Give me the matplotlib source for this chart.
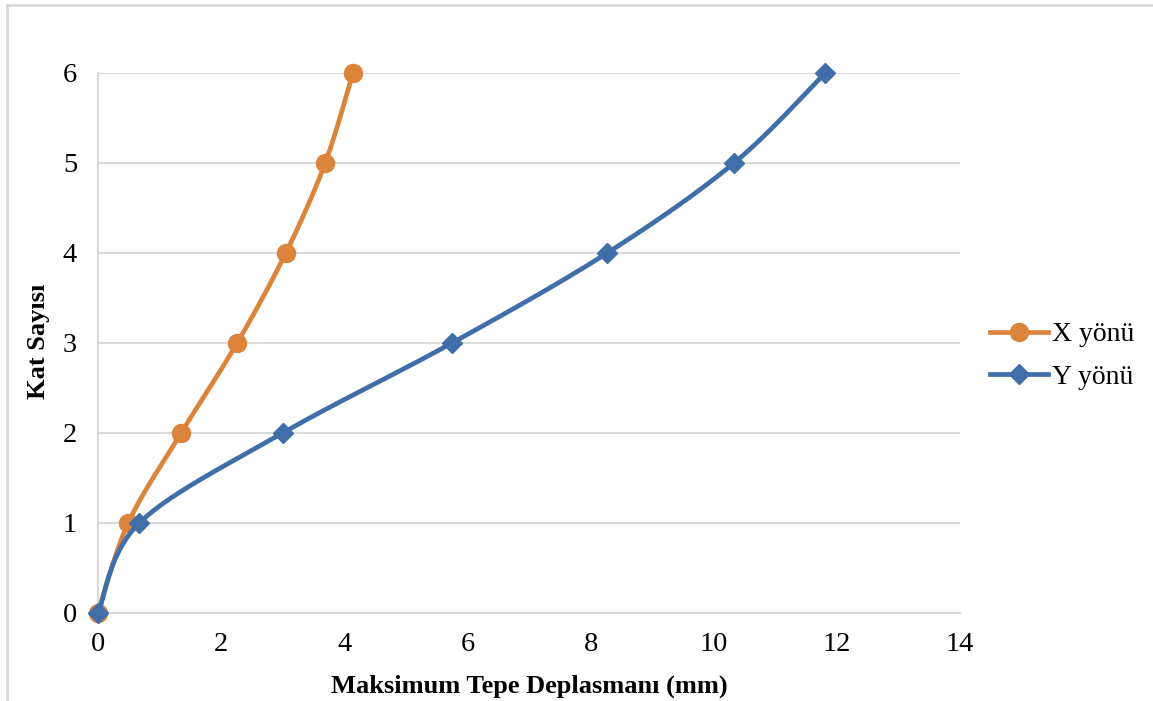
import numpy as np
import matplotlib
matplotlib.use("Agg")
import matplotlib.pyplot as plt
from matplotlib.lines import Line2D

# Storey displacement data
floors = [0, 1, 2, 3, 4, 5, 6]
x_dir = [0.0, 0.49, 1.35, 2.26, 3.05, 3.69, 4.14]
y_dir = [0.0, 0.67, 3.00, 5.75, 8.27, 10.33, 11.81]
series_names = ["X yönü", "Y yönü"]
x_ticks = [0, 2, 4, 6, 8, 10, 12, 14]
y_ticks = [0, 1, 2, 3, 4, 5, 6]

COL_X = "#dd843c"
COL_Y = "#3f6ea9"
GRID = "#d9d9d9"

plt.rcParams["font.family"] = ["Liberation Serif", "DejaVu Serif"]


def smooth(xs, ys, n=40, tension=0.5):
    """Catmull-Rom style smoothing through every data point."""
    p = np.column_stack([xs, ys]).astype(float)
    p = np.vstack([p[0], p, p[-1]])
    out = []
    for i in range(1, len(p) - 2):
        p0, p1, p2, p3 = p[i - 1], p[i], p[i + 1], p[i + 2]
        m1 = tension * (p2 - p0)
        m2 = tension * (p3 - p1)
        t = np.linspace(0, 1, n)[:, None]
        h00 = 2 * t**3 - 3 * t**2 + 1
        h10 = t**3 - 2 * t**2 + t
        h01 = -2 * t**3 + 3 * t**2
        h11 = t**3 - t**2
        seg = h00 * p1 + h10 * m1 + h01 * p2 + h11 * m2
        out.append(seg if i == 1 else seg[1:])
    c = np.vstack(out)
    return c[:, 0], c[:, 1]


fig = plt.figure(figsize=(11.53, 7.01), dpi=100)
W, H = 1153, 701
ax = fig.add_axes([98 / W, 1 - 613 / H, (960 - 98) / W, (613 - 73) / H])

LW = 3.4
sx, sy = smooth(x_dir, floors)
ax.plot(sx, sy, color=COL_X, lw=LW, solid_capstyle="round", zorder=3, clip_on=False)
ax.plot(x_dir, floors, "o", color=COL_X, ms=13, zorder=4, clip_on=False)

sx, sy = smooth(y_dir, floors)
ax.plot(sx, sy, color=COL_Y, lw=LW, solid_capstyle="round", zorder=5, clip_on=False)
ax.plot(y_dir, floors, "D", color=COL_Y, ms=10, zorder=6, clip_on=False)

ax.set_xlim(0, 14)
ax.set_ylim(0, 6)
ax.set_xticks(x_ticks)
ax.set_yticks(y_ticks)
ax.tick_params(length=0, labelsize=20.5)
ax.tick_params(axis="y", pad=15)
ax.tick_params(axis="x", pad=14)
ax.yaxis.grid(True, color=GRID, lw=1.5)
ax.set_axisbelow(True)
for s in ["top", "right"]:
    ax.spines[s].set_visible(False)
for s in ["left", "bottom"]:
    ax.spines[s].set_color(GRID)
    ax.spines[s].set_linewidth(1.5)

fig.text(529 / W, 1 - 686 / H, "Maksimum Tepe Deplasmanı (mm)", fontsize=19,
         fontweight="bold", ha="center", va="center")
fig.text(39 / W, 1 - 341 / H, "Kat Sayısı", fontsize=19, fontweight="bold",
         ha="center", va="center", rotation=90)

handles = [
    Line2D([], [], color=COL_X, lw=LW, marker="o", ms=13),
    Line2D([], [], color=COL_Y, lw=LW, marker="D", ms=10),
]
fig.legend(handles, series_names, loc="center left", bbox_to_anchor=(990 / W, 1 - 356 / H),
           frameon=False, fontsize=20, handlelength=2.1, handletextpad=0.15,
           labelspacing=0.62, borderpad=0, borderaxespad=0)

# chart frame
fig.add_artist(Line2D([7 / W, 1], [1 - 5 / H, 1 - 5 / H], color=GRID, lw=2))
fig.add_artist(Line2D([7 / W, 7 / W], [0, 1 - 5 / H], color=GRID, lw=2))

fig.savefig("out.png", dpi=100, facecolor="white")
